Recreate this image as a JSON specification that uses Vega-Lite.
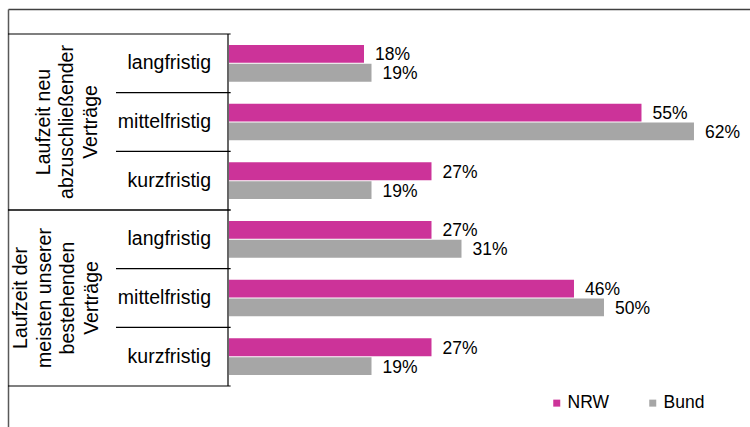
{
  "$schema": "https://vega.github.io/schema/vega-lite/v6.json",
  "width": 742,
  "height": 418,
  "autosize": {"type": "none"},
  "padding": {"left": 8, "top": 9, "right": 0, "bottom": 0},
  "background": "white",
  "data": {
    "values": [
      {"Gruppe": "Laufzeit neu\nabzuschließender\nVerträge", "Frist": "langfristig", "Serie": "NRW", "Wert": 0.18},
      {"Gruppe": "Laufzeit neu\nabzuschließender\nVerträge", "Frist": "langfristig", "Serie": "Bund", "Wert": 0.19},
      {"Gruppe": "Laufzeit neu\nabzuschließender\nVerträge", "Frist": "mittelfristig", "Serie": "NRW", "Wert": 0.55},
      {"Gruppe": "Laufzeit neu\nabzuschließender\nVerträge", "Frist": "mittelfristig", "Serie": "Bund", "Wert": 0.62},
      {"Gruppe": "Laufzeit neu\nabzuschließender\nVerträge", "Frist": "kurzfristig", "Serie": "NRW", "Wert": 0.27},
      {"Gruppe": "Laufzeit neu\nabzuschließender\nVerträge", "Frist": "kurzfristig", "Serie": "Bund", "Wert": 0.19},
      {"Gruppe": "Laufzeit der\nmeisten unserer\nbestehenden\nVerträge", "Frist": "langfristig", "Serie": "NRW", "Wert": 0.27},
      {"Gruppe": "Laufzeit der\nmeisten unserer\nbestehenden\nVerträge", "Frist": "langfristig", "Serie": "Bund", "Wert": 0.31},
      {"Gruppe": "Laufzeit der\nmeisten unserer\nbestehenden\nVerträge", "Frist": "mittelfristig", "Serie": "NRW", "Wert": 0.46},
      {"Gruppe": "Laufzeit der\nmeisten unserer\nbestehenden\nVerträge", "Frist": "mittelfristig", "Serie": "Bund", "Wert": 0.50},
      {"Gruppe": "Laufzeit der\nmeisten unserer\nbestehenden\nVerträge", "Frist": "kurzfristig", "Serie": "NRW", "Wert": 0.27},
      {"Gruppe": "Laufzeit der\nmeisten unserer\nbestehenden\nVerträge", "Frist": "kurzfristig", "Serie": "Bund", "Wert": 0.19}
    ]
  },
  "transform": [
    {"calculate": "replace(datum.Gruppe, /\\n/g, ' ') + ' – ' + datum.Frist", "as": "Zeile"}
  ],
  "layer": [
    {
      "transform": [{"filter": "datum.Serie === 'NRW'"}],
      "layer": [
        {
          "transform": [{"filter": "datum.Frist === 'langfristig'"}],
          "mark": {"type": "rule", "color": "#000000", "strokeWidth": 1.2},
          "encoding": {
            "y": {"field": "Zeile", "type": "nominal", "title": null, "bandPosition": 0,
                  "scale": {"type": "band", "paddingInner": 0, "paddingOuter": 0.5625, "align": 0.3788,
                            "domain": ["Laufzeit neu abzuschließender Verträge – langfristig", "Laufzeit neu abzuschließender Verträge – mittelfristig", "Laufzeit neu abzuschließender Verträge – kurzfristig", "Laufzeit der meisten unserer bestehenden Verträge – langfristig", "Laufzeit der meisten unserer bestehenden Verträge – mittelfristig", "Laufzeit der meisten unserer bestehenden Verträge – kurzfristig"]}},
            "x": {"datum": 0, "type": "quantitative", "axis": null, "scale": {"domain": [0, 1], "range": [0, 220], "nice": false, "zero": false}},
            "x2": {"datum": 1.012}
          }
        },
        {
          "transform": [{"filter": "datum.Frist !== 'langfristig'"}],
          "mark": {"type": "rule", "color": "#000000", "strokeWidth": 1.2},
          "encoding": {
            "y": {"field": "Zeile", "type": "nominal", "title": null, "bandPosition": 0},
            "x": {"datum": 0.4909, "type": "quantitative", "axis": null},
            "x2": {"datum": 1.012}
          }
        },
        {
          "transform": [{"filter": "datum.Frist === 'kurzfristig'"}],
          "mark": {"type": "rule", "color": "#000000", "strokeWidth": 1.2},
          "encoding": {
            "y": {"field": "Zeile", "type": "nominal", "title": null, "bandPosition": 1},
            "x": {"datum": 0, "type": "quantitative", "axis": null},
            "x2": {"datum": 1.012}
          }
        },
        {
          "mark": {"type": "rule", "color": "#000000", "strokeWidth": 1.2},
          "encoding": {
            "y": {"field": "Zeile", "type": "nominal", "title": null, "bandPosition": 0},
            "y2": {"field": "Zeile", "bandPosition": 1},
            "x": {"datum": 1, "type": "quantitative", "axis": null}
          }
        },
        {
          "mark": {"type": "text", "align": "right", "baseline": "middle", "font": "Liberation Sans", "fontSize": 19.5, "color": "#000000"},
          "encoding": {
            "y": {"field": "Zeile", "type": "nominal", "title": null},
            "x": {"datum": 0.9227, "type": "quantitative", "axis": null},
            "text": {"field": "Frist"}
          }
        },
        {
          "transform": [{"filter": {"and": [{"field": "Frist", "equal": "mittelfristig"}, {"field": "Gruppe", "equal": "Laufzeit neu\nabzuschließender\nVerträge"}]}}],
          "mark": {"type": "text", "align": "center", "baseline": "middle", "angle": 270, "lineBreak": "\n", "lineHeight": 23.5, "font": "Liberation Sans", "fontSize": 19.5, "color": "#000000"},
          "encoding": {
            "y": {"field": "Zeile", "type": "nominal", "title": null},
            "x": {"datum": 0.1636, "type": "quantitative", "axis": null},
            "text": {"field": "Gruppe"}
          }
        },
        {
          "transform": [{"filter": {"and": [{"field": "Frist", "equal": "mittelfristig"}, {"field": "Gruppe", "equal": "Laufzeit der\nmeisten unserer\nbestehenden\nVerträge"}]}}],
          "mark": {"type": "text", "align": "center", "baseline": "middle", "angle": 270, "lineBreak": "\n", "lineHeight": 23.5, "font": "Liberation Sans", "fontSize": 19.5, "color": "#000000"},
          "encoding": {
            "y": {"field": "Zeile", "type": "nominal", "title": null},
            "x": {"datum": 0.0591, "type": "quantitative", "axis": null},
            "text": {"field": "Gruppe"}
          }
        }
      ]
    },
    {
      "layer": [
        {
          "mark": {"type": "bar"},
          "encoding": {
            "y": {"field": "Zeile", "type": "nominal", "title": null},
            "yOffset": {"field": "Serie", "type": "nominal", "sort": ["NRW", "Bund"], "scale": {"paddingInner": 0.05, "paddingOuter": 0.585}},
            "x": {"field": "Wert", "type": "quantitative", "title": null,
                  "scale": {"domain": [-0.2947, 0.6947], "nice": false, "zero": false},
                  "axis": {"orient": "top", "domain": true, "ticks": false, "labels": false, "grid": false, "domainColor": "#404040", "domainWidth": 1.3}},
            "color": {"field": "Serie", "type": "nominal", "sort": ["NRW", "Bund"],
                      "scale": {"domain": ["NRW", "Bund"], "range": ["#CC3399", "#A6A6A6"]},
                      "legend": {"orient": "none", "legendX": 540, "legendY": 385, "direction": "horizontal", "title": null,
                                 "symbolType": "square", "symbolSize": 49, "symbolStrokeWidth": 0, "symbolOpacity": 1,
                                 "labelFontSize": 17.5, "labelFont": "Liberation Sans", "labelColor": "#000000",
                                 "labelOffset": 2, "columnPadding": 35, "padding": 0}}
          }
        },
        {
          "mark": {"type": "text", "align": "left", "baseline": "middle", "dx": 11, "dy": 1.5, "font": "Liberation Sans", "fontSize": 17.5, "color": "#000000"},
          "encoding": {
            "y": {"field": "Zeile", "type": "nominal", "title": null},
            "yOffset": {"field": "Serie", "type": "nominal", "sort": ["NRW", "Bund"], "scale": {"paddingInner": 0.05, "paddingOuter": 0.585}},
            "x": {"field": "Wert", "type": "quantitative"},
            "text": {"field": "Wert", "type": "quantitative", "format": ".0%"}
          }
        }
      ]
    }
  ],
  "resolve": {"scale": {"x": "independent"}},
  "config": {
    "view": {"stroke": null},
    "axisY": {"domain": true, "ticks": false, "labels": false, "grid": false, "title": null, "domainColor": "#595959", "domainWidth": 1.5}
  }
}
